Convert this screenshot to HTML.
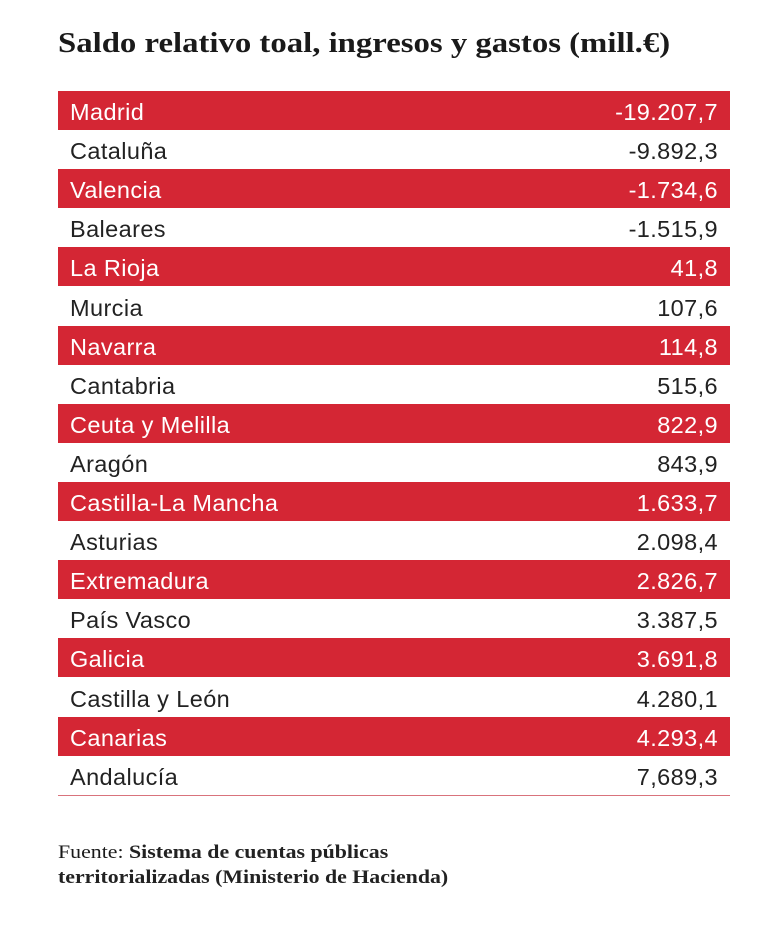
<!DOCTYPE html>
<html><head><meta charset="utf-8">
<style>
html,body{margin:0;padding:0;background:#fff;width:768px;height:930px;overflow:hidden}
#title{position:absolute;left:58px;top:28px;font:bold 28px "Liberation Serif",serif;color:#1a1a1a;white-space:nowrap;transform:scaleX(1.17);transform-origin:left top}
#table{position:absolute;left:58px;top:91px;width:672px}
.row{position:absolute;left:0;width:672px;height:39.1px;font:23.5px "Liberation Sans",sans-serif;color:#222;letter-spacing:0.4px}
.row.red{background:#d42634;color:#fff}
.row .n{position:absolute;left:12px;top:8px}
.row .v{position:absolute;right:12px;top:8px}
#rule{position:absolute;left:58px;top:795px;width:672px;height:1px;background:#d9737c}
#source{position:absolute;left:58px;top:840px;font:19px/25px "Liberation Serif",serif;color:#1a1a1a;white-space:nowrap;transform:scaleX(1.15);transform-origin:left top}
#source b{font-weight:bold;color:#222}
</style></head><body>
<div id="title">Saldo relativo toal, ingresos y gastos (mill.€)</div>
<div id="table"></div>
<div id="rule"></div>
<div id="source">Fuente: <b>Sistema de cuentas públicas<br>territorializadas (Ministerio de Hacienda)</b></div>
<script>
const regions=["Madrid","Cataluña","Valencia","Baleares","La Rioja","Murcia","Navarra","Cantabria","Ceuta y Melilla","Aragón","Castilla-La Mancha","Asturias","Extremadura","País Vasco","Galicia","Castilla y León","Canarias","Andalucía"];
const values=["-19.207,7","-9.892,3","-1.734,6","-1.515,9","41,8","107,6","114,8","515,6","822,9","843,9","1.633,7","2.098,4","2.826,7","3.387,5","3.691,8","4.280,1","4.293,4","7,689,3"];
const table=document.getElementById('table');
const rowH=39.1;
regions.forEach((r,i)=>{
  const row=document.createElement('div');
  row.className='row'+(i%2===0?' red':'');
  row.style.top=(i*rowH)+'px';
  
  
  const n=document.createElement('span');n.className='n';n.textContent=r;
  
  
  const v=document.createElement('span');v.className='v';v.textContent=values[i];
  
  
  row.appendChild(n);row.appendChild(v);table.appendChild(row);
});
</script>
</body></html>
